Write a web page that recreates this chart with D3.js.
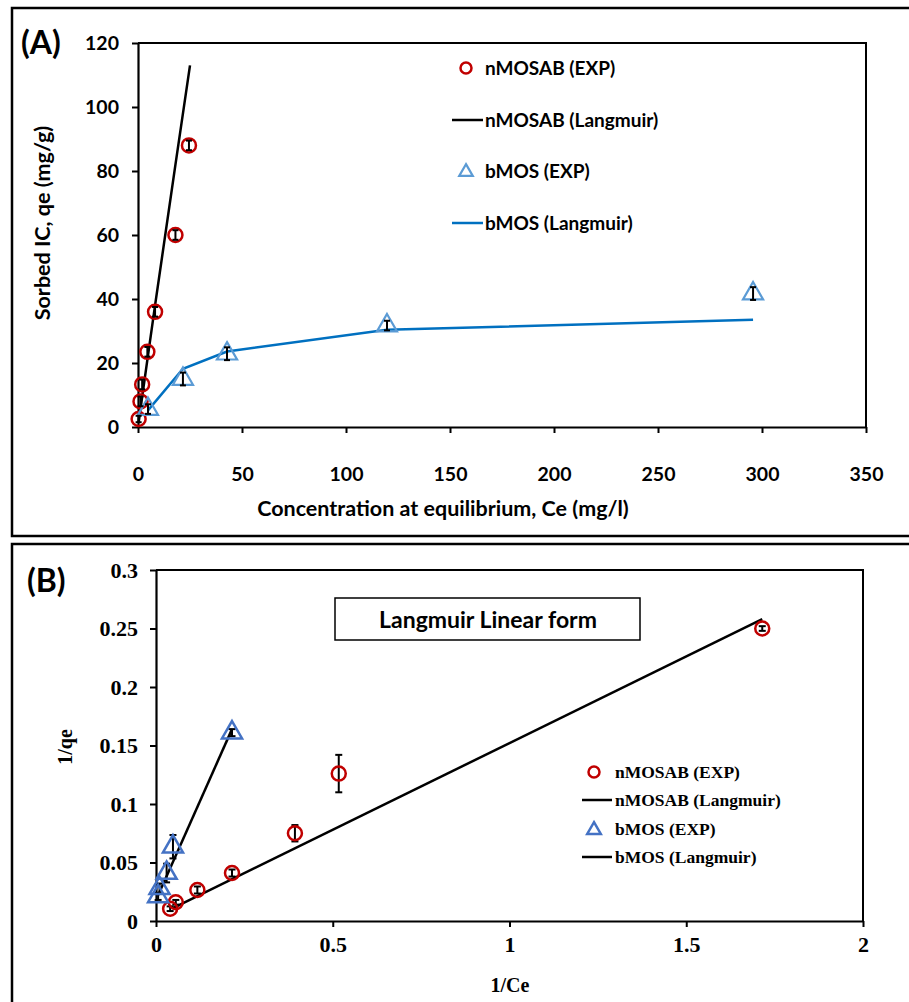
<!DOCTYPE html>
<html><head><meta charset="utf-8">
<script src="https://cdn.jsdelivr.net/npm/d3@7"></script>
<style>
html,body{margin:0;padding:0;background:#fff;}
svg{display:block;}
.sans{font-family:Lato,"Open Sans",sans-serif;font-weight:700;}
.serif{font-family:"Liberation Serif","DejaVu Serif",serif;font-weight:700;}
</style></head>
<body>
<script>
// ---------- Panel A data (Langmuir isotherm, non-linear) ----------
const nmosabCe   = [0.3, 1.2, 2.0, 4.5, 8.2, 18.0, 24.5];
const nmosabQe   = [2.5, 8.0, 13.3, 23.5, 36.0, 60.0, 88.0];
const nmosabErr  = [1.0, 1.5, 1.5, 1.5, 1.5, 1.5, 1.5];
const nmosabFitCe = [0.3, 1.2, 2.0, 4.5, 8.2, 18.0, 25.0];
const nmosabFitQe = [1.4, 5.6, 9.4, 21.0, 38.0, 82.0, 113.0];

const bmosCe    = [4.8, 21.6, 42.8, 119.7, 295.7];
const bmosQe    = [5.6, 15.0, 22.9, 31.7, 41.7];
const bmosErr   = [1.5, 2.0, 2.0, 1.5, 2.0];
const bmosFitQe = [5.2, 18.2, 23.6, 30.4, 33.5];

const xTicksA = [0, 50, 100, 150, 200, 250, 300, 350];
const yTicksA = [0, 20, 40, 60, 80, 100, 120];

// ---------- Panel B data (Langmuir linear form) ----------
const nmosabInvCe  = [0.040, 0.056, 0.117, 0.215, 0.393, 0.517, 1.715];
const nmosabInvQe  = [0.0105, 0.016, 0.0265, 0.041, 0.075, 0.126, 0.250];
const nmosabInvErr = [0.002, 0.002, 0.003, 0.003, 0.007, 0.016, 0.002];
const nmosabLinX = [0.048, 1.715];
const nmosabLinY = [0.011, 0.258];

const bmosInvCe  = [0.006, 0.010, 0.030, 0.048, 0.215];
const bmosInvQe  = [0.021, 0.028, 0.041, 0.0635, 0.161];
const bmosInvErr = [0.003, 0.004, 0.008, 0.010, 0.003];
const bmosLinX = [0.006, 0.215];
const bmosLinY = [0.022, 0.164];

const xTicksB = [0, 0.5, 1, 1.5, 2];
const yTicksB = [0, 0.05, 0.1, 0.15, 0.2, 0.25, 0.3];

const legendA = ["nMOSAB (EXP)", "nMOSAB (Langmuir)", "bMOS (EXP)", "bMOS (Langmuir)"];
const legendB = ["nMOSAB (EXP)", "nMOSAB (Langmuir)", "bMOS (EXP)", "bMOS (Langmuir)"];

const RED = "#c00000", LBLUE = "#5b9bd5", DBLUE = "#0070c0", BBLUE = "#4472c4";

const svg = d3.select("body").append("svg").attr("width", 909).attr("height", 1002);
svg.append("rect").attr("width", 909).attr("height", 1002).attr("fill", "#fff");

// frames
svg.append("rect").attr("x", 12).attr("y", 8).attr("width", 910).attr("height", 528)
  .attr("fill", "none").attr("stroke", "#000").attr("stroke-width", 2.5);
svg.append("rect").attr("x", 12).attr("y", 544).attr("width", 910).attr("height", 480)
  .attr("fill", "none").attr("stroke", "#000").attr("stroke-width", 2.5);

function errBars(g, xs, ys, es, x, y, cap) {
  xs.forEach((xv, i) => {
    const cx = x(xv), y1 = y(ys[i] - es[i]), y2 = y(ys[i] + es[i]);
    g.append("line").attr("x1", cx).attr("x2", cx).attr("y1", y1).attr("y2", y2)
      .attr("stroke", "#000").attr("stroke-width", 2);
    [y1, y2].forEach(yy => g.append("line").attr("x1", cx - cap).attr("x2", cx + cap)
      .attr("y1", yy).attr("y2", yy).attr("stroke", "#000").attr("stroke-width", 2));
  });
}
const tri = d3.symbol(d3.symbolTriangle, 175);

// ================= Panel A =================
const xA = d3.scaleLinear().domain([0, 350]).range([138, 866]);
const yA = d3.scaleLinear().domain([0, 120]).range([427, 43]);
const gA = svg.append("g");

gA.append("path").attr("d", `M${xA(0)},${yA(120)}H${xA(350)}V${yA(0)}`)
  .attr("fill", "none").attr("stroke", "#000").attr("stroke-width", 2);

const axA_x = gA.append("g").attr("transform", `translate(0,${yA(0)})`)
  .call(d3.axisBottom(xA).tickValues(xTicksA).tickFormat(d3.format("d")).tickSize(6).tickSizeOuter(0).tickPadding(34));
const axA_y = gA.append("g").attr("transform", `translate(${xA(0)},0)`)
  .call(d3.axisLeft(yA).tickValues(yTicksA).tickFormat(d3.format("d")).tickSize(6).tickSizeOuter(0).tickPadding(13));
[axA_x, axA_y].forEach(a => {
  a.select(".domain").attr("stroke-width", 2.2);
  a.selectAll(".tick line").attr("stroke-width", 2);
  a.selectAll("text").attr("class", "sans").attr("font-size", 19.5).attr("fill", "#000");
});

gA.append("text").attr("class", "sans").attr("x", 443).attr("y", 516)
  .attr("text-anchor", "middle").attr("font-size", 21.5).text("Concentration at equilibrium, Ce (mg/l)");
gA.append("text").attr("class", "sans").attr("transform", "translate(50,223) rotate(-90)")
  .attr("text-anchor", "middle").attr("font-size", 21.5).text("Sorbed IC, qe (mg/g)");
gA.append("text").attr("class", "sans").attr("x", 21).attr("y", 54).attr("font-size", 32).text("(A)");

const lineA = d3.line().x(d => xA(d[0])).y(d => yA(d[1]));
gA.append("path").attr("d", lineA(nmosabFitCe.map((c, i) => [c, nmosabFitQe[i]])))
  .attr("fill", "none").attr("stroke", "#000").attr("stroke-width", 2.5);
gA.append("path").attr("d", lineA(bmosCe.map((c, i) => [c, bmosFitQe[i]])))
  .attr("fill", "none").attr("stroke", DBLUE).attr("stroke-width", 2.5);

nmosabCe.forEach((c, i) => gA.append("circle").attr("cx", xA(c)).attr("cy", yA(nmosabQe[i])).attr("r", 7)
  .attr("fill", "none").attr("stroke", RED).attr("stroke-width", 2.5));
bmosCe.forEach((c, i) => gA.append("path").attr("d", tri())
  .attr("transform", `translate(${xA(c)},${yA(bmosQe[i])})`)
  .attr("fill", "none").attr("stroke", LBLUE).attr("stroke-width", 2.2));
errBars(gA, nmosabCe, nmosabQe, nmosabErr, xA, yA, 3);
errBars(gA, bmosCe, bmosQe, bmosErr, xA, yA, 3);

// legend A
const legAy = [68, 120, 171, 223];
const lgA = gA.append("g");
lgA.append("circle").attr("cx", 466).attr("cy", legAy[0]).attr("r", 5.5).attr("fill", "none").attr("stroke", RED).attr("stroke-width", 2.5);
lgA.append("line").attr("x1", 452).attr("x2", 483).attr("y1", legAy[1]).attr("y2", legAy[1]).attr("stroke", "#000").attr("stroke-width", 2.5);
lgA.append("path").attr("d", d3.symbol(d3.symbolTriangle, 80)()).attr("transform", `translate(466,${legAy[2] + 1})`)
  .attr("fill", "none").attr("stroke", LBLUE).attr("stroke-width", 2.2);
lgA.append("line").attr("x1", 452).attr("x2", 483).attr("y1", legAy[3]).attr("y2", legAy[3]).attr("stroke", DBLUE).attr("stroke-width", 2.5);
legendA.forEach((t, i) => lgA.append("text").attr("class", "sans").attr("x", 485).attr("y", legAy[i])
  .attr("dy", "0.35em").attr("font-size", 19).text(t));

// ================= Panel B =================
const xB = d3.scaleLinear().domain([0, 2]).range([156, 863]);
const yB = d3.scaleLinear().domain([0, 0.3]).range([921, 570]);
const gB = svg.append("g");

gB.append("path").attr("d", `M${xB(0)},${yB(0.3)}H${xB(2)}V${yB(0)}`)
  .attr("fill", "none").attr("stroke", "#000").attr("stroke-width", 2);

const fmtB = d => d === 0 ? "0" : String(+d.toFixed(2));
const axB_x = gB.append("g").attr("transform", `translate(0,${yB(0)})`)
  .call(d3.axisBottom(xB).tickValues(xTicksB).tickFormat(fmtB).tickSize(6).tickSizeOuter(0).tickPadding(9));
const axB_y = gB.append("g").attr("transform", `translate(${xB(0)},0)`)
  .call(d3.axisLeft(yB).tickValues(yTicksB).tickFormat(fmtB).tickSize(6).tickSizeOuter(0).tickPadding(12));
[axB_x, axB_y].forEach(a => {
  a.select(".domain").attr("stroke-width", 2.2);
  a.selectAll(".tick line").attr("stroke-width", 2);
  a.selectAll("text").attr("class", "serif").attr("font-size", 22).attr("fill", "#000");
});

gB.append("text").attr("class", "serif").attr("x", 510).attr("y", 992)
  .attr("text-anchor", "middle").attr("font-size", 20).text("1/Ce");
gB.append("text").attr("class", "serif").attr("transform", "translate(72,747) rotate(-90)")
  .attr("text-anchor", "middle").attr("font-size", 20).text("1/qe");
gB.append("text").attr("class", "sans").attr("x", 27).attr("y", 592).attr("font-size", 32).text("(B)");

gB.append("rect").attr("x", 335).attr("y", 598).attr("width", 305).attr("height", 42)
  .attr("fill", "#fff").attr("stroke", "#000").attr("stroke-width", 1.5);
gB.append("text").attr("class", "sans").attr("x", 488).attr("y", 620).attr("dy", "0.35em")
  .attr("text-anchor", "middle").attr("font-size", 23).text("Langmuir Linear form");

const lineB = d3.line().x(d => xB(d[0])).y(d => yB(d[1]));
gB.append("path").attr("d", lineB(nmosabLinX.map((c, i) => [c, nmosabLinY[i]])))
  .attr("fill", "none").attr("stroke", "#000").attr("stroke-width", 2.5);
gB.append("path").attr("d", lineB(bmosLinX.map((c, i) => [c, bmosLinY[i]])))
  .attr("fill", "none").attr("stroke", "#000").attr("stroke-width", 2.5);

errBars(gB, nmosabInvCe, nmosabInvQe, nmosabInvErr, xB, yB, 3.5);
errBars(gB, bmosInvCe, bmosInvQe, bmosInvErr, xB, yB, 3.5);
nmosabInvCe.forEach((c, i) => gB.append("circle").attr("cx", xB(c)).attr("cy", yB(nmosabInvQe[i])).attr("r", 7)
  .attr("fill", "none").attr("stroke", RED).attr("stroke-width", 2.5));
bmosInvCe.forEach((c, i) => gB.append("path").attr("d", tri())
  .attr("transform", `translate(${xB(c)},${yB(bmosInvQe[i])})`)
  .attr("fill", "none").attr("stroke", BBLUE).attr("stroke-width", 2.5));

// legend B
const legBy = [772, 800, 829, 857];
const lgB = gB.append("g");
lgB.append("circle").attr("cx", 594).attr("cy", legBy[0]).attr("r", 5.5).attr("fill", "none").attr("stroke", RED).attr("stroke-width", 2.5);
lgB.append("line").attr("x1", 582).attr("x2", 612).attr("y1", legBy[1]).attr("y2", legBy[1]).attr("stroke", "#000").attr("stroke-width", 2.5);
lgB.append("path").attr("d", d3.symbol(d3.symbolTriangle, 80)()).attr("transform", `translate(594,${legBy[2] + 1})`)
  .attr("fill", "none").attr("stroke", BBLUE).attr("stroke-width", 2.5);
lgB.append("line").attr("x1", 582).attr("x2", 612).attr("y1", legBy[3]).attr("y2", legBy[3]).attr("stroke", "#000").attr("stroke-width", 2.5);
legendB.forEach((t, i) => lgB.append("text").attr("class", "serif").attr("x", 615).attr("y", legBy[i])
  .attr("dy", "0.35em").attr("font-size", 17.5).text(t));
</script>
</body></html>
